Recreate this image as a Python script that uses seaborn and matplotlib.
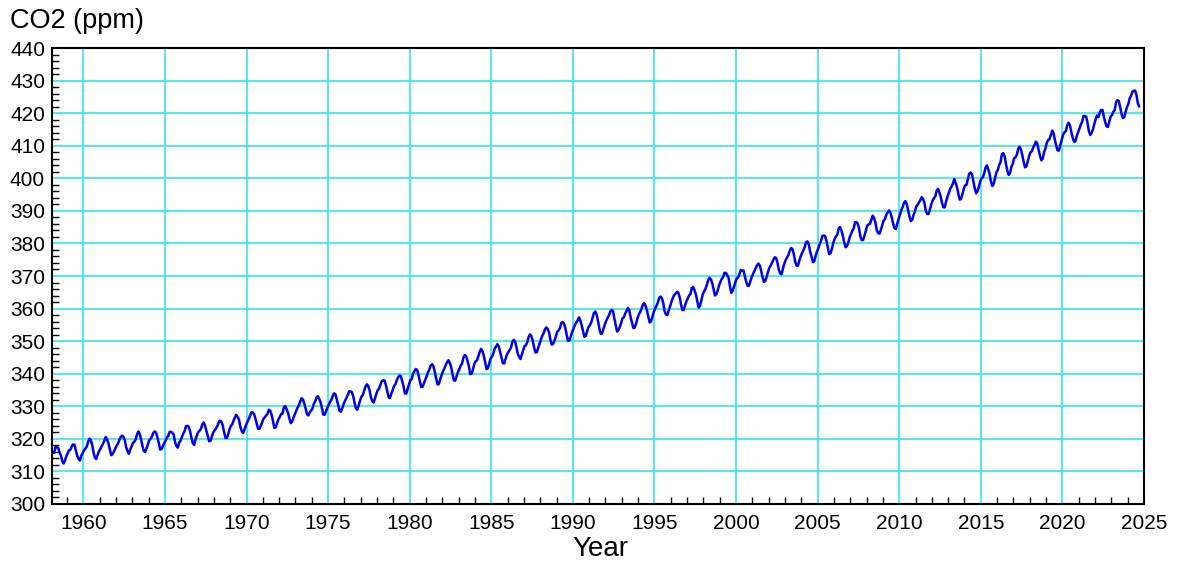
import numpy as np
import pandas as pd
import matplotlib
matplotlib.use("Agg")
import matplotlib.pyplot as plt
from matplotlib.ticker import MultipleLocator
import seaborn as sns

# Monthly mean CO2 (ppm), first value is March 1958
start_year = 1958
start_month = 3

co2_1950s = [
    315.70, 317.45, 317.51, 317.24, 315.86, 314.93, 313.20, 312.43, 313.33, 314.67,
    315.58, 316.49, 316.65, 317.72, 318.29, 318.15, 316.54, 314.80, 313.84, 313.33, 314.81, 315.58,
]
co2_1960s = [
    316.43, 316.98, 317.58, 319.03, 320.04, 319.59, 318.18, 315.90, 314.17, 313.83, 315.00, 316.19,
    316.90, 317.70, 318.54, 319.48, 320.58, 319.77, 318.57, 316.79, 314.99, 315.31, 316.10, 317.01,
    317.94, 318.55, 319.68, 320.57, 321.02, 320.62, 319.61, 317.40, 316.25, 315.42, 316.69, 317.70,
    318.74, 319.07, 319.86, 321.38, 322.25, 321.48, 319.74, 317.77, 316.21, 315.99, 317.07, 318.35,
    319.57, 320.01, 320.74, 321.84, 322.26, 321.89, 320.44, 318.69, 316.70, 316.87, 317.68, 318.71,
    319.44, 320.44, 320.89, 322.14, 322.17, 321.87, 321.21, 318.87, 317.81, 317.30, 318.87, 319.42,
    320.62, 321.59, 322.39, 323.87, 324.01, 323.75, 322.39, 320.37, 318.64, 318.10, 319.79, 321.08,
    322.07, 322.50, 323.04, 324.42, 325.00, 324.09, 322.54, 320.92, 319.25, 319.39, 320.73, 321.96,
    322.57, 323.15, 323.89, 325.02, 325.57, 325.36, 324.14, 322.11, 320.33, 320.25, 321.32, 322.89,
    324.00, 324.42, 325.63, 326.66, 327.38, 326.71, 325.88, 323.66, 322.38, 321.78, 322.85, 324.12,
]
co2_1970s = [
    325.06, 325.98, 326.93, 328.13, 328.08, 327.67, 326.34, 324.69, 323.10, 323.06, 324.01, 325.13,
    326.17, 326.68, 327.17, 327.79, 328.93, 328.57, 327.36, 325.43, 323.36, 323.56, 324.80, 326.01,
    326.77, 327.63, 327.75, 329.72, 330.07, 329.09, 328.04, 326.32, 324.84, 325.20, 326.50, 327.55,
    328.55, 329.56, 330.30, 331.50, 332.48, 332.07, 330.87, 329.31, 327.51, 327.18, 328.16, 328.64,
    329.35, 330.71, 331.48, 332.65, 333.09, 332.25, 331.18, 329.40, 327.44, 327.37, 328.46, 329.58,
    330.40, 331.40, 332.04, 333.31, 333.97, 333.60, 331.90, 330.06, 328.56, 328.34, 329.49, 330.76,
    331.75, 332.56, 333.50, 334.58, 334.57, 334.34, 333.05, 330.94, 329.30, 328.94, 330.31, 331.68,
    332.93, 333.42, 334.70, 336.07, 336.75, 336.27, 334.92, 332.75, 331.59, 331.16, 332.40, 333.85,
    334.97, 335.38, 336.64, 337.76, 338.01, 337.89, 336.54, 334.68, 332.76, 332.55, 333.92, 334.95,
    336.23, 336.76, 337.96, 338.88, 339.47, 339.29, 337.73, 336.09, 333.92, 333.86, 335.29, 336.73,
]
co2_1980s = [
    338.01, 338.36, 340.07, 340.77, 341.46, 341.17, 339.56, 337.60, 335.88, 336.02, 337.10, 338.21,
    339.24, 340.48, 341.38, 342.51, 342.91, 342.25, 340.49, 338.43, 336.69, 336.86, 338.36, 339.61,
    340.75, 341.61, 342.70, 343.56, 344.13, 343.35, 342.06, 339.82, 337.97, 337.86, 339.26, 340.49,
    341.38, 342.52, 343.10, 344.94, 345.75, 345.32, 343.99, 342.39, 339.86, 339.99, 341.16, 342.99,
    343.81, 344.06, 345.38, 346.72, 347.63, 346.97, 345.53, 343.55, 341.40, 341.67, 343.10, 344.70,
    345.21, 346.16, 347.74, 348.34, 349.06, 348.38, 346.72, 345.02, 343.27, 343.13, 344.49, 345.88,
    346.56, 347.28, 348.01, 349.77, 350.38, 349.93, 348.16, 346.08, 345.22, 344.51, 345.93, 347.22,
    348.52, 348.73, 349.73, 351.31, 352.09, 351.53, 350.11, 348.08, 346.52, 346.59, 347.96, 349.16,
    350.39, 351.64, 352.41, 353.69, 354.21, 353.72, 352.69, 350.40, 348.92, 349.13, 350.20, 351.41,
    352.91, 353.27, 353.96, 355.64, 355.86, 355.37, 353.99, 351.81, 350.05, 350.25, 351.49, 352.85,
]
co2_1990s = [
    353.80, 355.04, 355.73, 356.32, 357.32, 356.34, 354.84, 353.01, 351.31, 351.62, 353.07, 354.33,
    354.84, 355.73, 357.23, 358.66, 359.13, 358.13, 356.19, 353.85, 352.25, 352.35, 353.81, 355.12,
    356.25, 357.11, 357.86, 359.09, 359.59, 359.33, 357.01, 354.94, 352.96, 353.32, 354.32, 355.57,
    357.00, 357.31, 358.47, 359.27, 360.19, 359.52, 357.33, 355.64, 354.03, 354.12, 355.41, 356.91,
    358.24, 358.92, 359.99, 361.23, 361.65, 360.81, 359.38, 357.46, 355.73, 356.08, 357.53, 358.98,
    359.92, 360.86, 361.83, 363.30, 363.69, 363.19, 361.64, 359.12, 358.17, 357.99, 359.45, 360.68,
    362.07, 363.24, 364.17, 364.57, 365.13, 364.92, 363.55, 361.38, 359.54, 359.58, 360.89, 362.24,
    363.09, 364.03, 364.51, 366.35, 366.64, 365.59, 364.31, 362.25, 360.29, 360.82, 362.49, 364.38,
    365.26, 365.98, 367.24, 368.66, 369.42, 368.99, 367.82, 365.95, 364.02, 364.40, 365.52, 367.13,
    368.18, 369.07, 369.68, 370.99, 370.96, 370.30, 369.45, 366.90, 364.81, 365.37, 366.72, 368.10,
]
co2_2000s = [
    369.29, 369.54, 370.60, 371.82, 371.58, 371.70, 369.86, 368.13, 367.00, 367.03, 368.37, 369.67,
    370.59, 371.51, 372.43, 373.37, 373.85, 373.21, 371.51, 369.61, 368.18, 368.45, 369.76, 371.24,
    372.53, 373.20, 374.12, 375.02, 375.76, 375.52, 374.01, 371.85, 370.75, 370.55, 372.25, 373.79,
    374.88, 375.64, 376.45, 377.73, 378.60, 378.28, 376.70, 374.38, 373.17, 373.14, 374.66, 375.99,
    377.00, 377.87, 378.88, 380.35, 380.62, 379.69, 377.47, 376.01, 374.25, 374.46, 376.16, 377.51,
    378.46, 379.73, 380.77, 382.29, 382.45, 382.21, 380.74, 378.74, 376.70, 377.00, 378.35, 380.11,
    381.38, 382.19, 382.67, 384.61, 385.03, 384.05, 382.46, 380.41, 378.85, 379.13, 380.15, 381.82,
    382.89, 383.90, 384.58, 386.50, 386.56, 386.10, 384.50, 381.99, 380.96, 381.12, 382.45, 383.95,
    385.52, 385.82, 386.03, 387.21, 388.54, 387.76, 386.36, 384.09, 383.18, 382.99, 384.19, 385.56,
    386.94, 387.48, 388.82, 389.55, 390.14, 389.48, 388.03, 386.11, 384.74, 384.43, 386.02, 387.42,
]
co2_2010s = [
    388.71, 390.20, 391.17, 392.46, 393.00, 392.15, 390.20, 388.35, 386.85, 387.24, 388.67, 389.79,
    391.33, 391.86, 392.60, 393.25, 394.19, 393.74, 392.51, 390.13, 389.08, 389.00, 390.28, 391.86,
    393.12, 393.86, 394.40, 396.18, 396.74, 395.71, 394.36, 392.39, 391.11, 391.05, 392.98, 394.34,
    395.55, 396.80, 397.43, 398.41, 399.78, 398.60, 397.32, 395.20, 393.45, 393.70, 395.16, 396.84,
    397.85, 398.01, 399.77, 401.38, 401.78, 401.25, 399.10, 397.03, 395.38, 396.03, 397.28, 398.91,
    399.98, 400.28, 401.54, 403.28, 403.96, 402.80, 401.31, 398.93, 397.63, 398.29, 400.16, 401.85,
    402.56, 404.12, 404.87, 407.45, 407.72, 406.83, 404.41, 402.27, 401.05, 401.59, 403.55, 404.45,
    406.17, 406.46, 407.22, 409.04, 409.69, 408.88, 407.12, 405.13, 403.37, 403.63, 405.12, 406.81,
    407.96, 408.32, 409.41, 410.24, 411.24, 410.79, 408.71, 406.99, 405.51, 406.00, 408.02, 409.07,
    410.83, 411.75, 411.97, 413.32, 414.66, 413.92, 411.77, 409.95, 408.54, 408.53, 410.27, 411.76,
]
co2_2020s = [
    413.40, 414.11, 414.51, 416.21, 417.07, 416.38, 414.38, 412.55, 411.29, 411.28, 412.89, 414.02,
    415.24, 416.45, 417.31, 419.13, 419.13, 418.94, 416.96, 414.47, 413.30, 413.93, 415.01, 416.71,
    418.19, 419.28, 418.81, 420.23, 420.99, 420.99, 418.90, 417.19, 415.95, 415.78, 417.51, 418.95,
    419.47, 420.41, 420.99, 423.36, 424.00, 423.68, 421.83, 419.68, 418.51, 418.82, 420.46, 421.86,
    422.80, 424.55, 425.38, 426.57, 426.90, 426.91, 425.55, 422.99, 422.03,
]

co2 = co2_1950s + co2_1960s + co2_1970s + co2_1980s + co2_1990s + co2_2000s + co2_2010s + co2_2020s

# decimal date at the middle of each month
idx = np.arange(len(co2)) + (start_month - 1)
years = start_year + idx // 12
months = idx % 12 + 1
df = pd.DataFrame({'Year': years + (months - 0.5) / 12, 'CO2': co2})

sns.set_style('white')
plt.rcParams['font.family'] = ['Liberation Sans', 'DejaVu Sans']
plt.rcParams['text.color'] = 'black'

fig = plt.figure(figsize=(11.79, 5.65), dpi=100)
ax = fig.add_axes([0.0441, 0.108, 0.9262, 0.807])

sns.lineplot(data=df, x='Year', y='CO2', color='#0000f0', linewidth=1.8, ax=ax)

ax.set_xlim(1958.08, 2025)
ax.set_ylim(300, 440)
ax.xaxis.set_major_locator(MultipleLocator(5))
ax.xaxis.set_minor_locator(MultipleLocator(1))
ax.yaxis.set_major_locator(MultipleLocator(10))
ax.yaxis.set_minor_locator(MultipleLocator(2))

ax.grid(True, which='major', color='#33e6f0', linewidth=1.2)
ax.set_axisbelow(True)

ax.tick_params(which='both', direction='in', top=False, right=False, colors='black',
               labelcolor='black', labelsize=15, width=1.0)
ax.tick_params(which='major', length=7)
ax.tick_params(which='minor', length=5, bottom=True, left=True)
ax.tick_params(axis='x', pad=7)
ax.tick_params(axis='y', pad=5)

for spine in ax.spines.values():
    spine.set_color('black')
    spine.set_linewidth(1.5)

ax.set_xlabel('')
ax.set_ylabel('')
fig.text(0.0085, 0.962, 'CO2 (ppm)', fontsize=19.5, ha='left', va='center', color='black')
fig.text(0.509, 0.028, 'Year', fontsize=20, ha='center', va='center', color='black')

fig.savefig('out.png', dpi=100)
